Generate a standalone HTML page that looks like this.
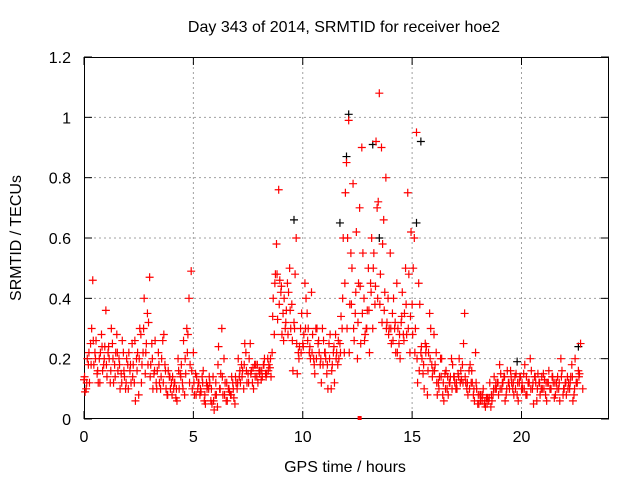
<!DOCTYPE html>
<html><head><meta charset="utf-8"><style>
body{margin:0;background:#fff}
svg{display:block;font-family:"Liberation Sans",sans-serif;font-size:16px}
</style></head><body>
<svg id="chart" width="640" height="480" viewBox="0 0 640 480">
<text x="344" y="32" text-anchor="middle">Day 343 of 2014, SRMTID for receiver hoe2</text>
<text transform="translate(21,238) rotate(-90)" text-anchor="middle">SRMTID / TECUs</text>
<text x="345" y="472" text-anchor="middle">GPS time / hours</text>
<g id="grid"></g>
<g id="axes"></g>
<g id="marks"></g>
</svg>
<script>
const xTicks=[0,5,10,15,20];
const yTicks=[0,0.2,0.4,0.6,0.8,1,1.2];
const yTickLabels=["0","0.2","0.4","0.6","0.8","1","1.2"];
const seriesA=[0.13,0.10,0.18,0.25,0.46,0.22,0.15,0.20,0.28,0.18,0.36,
0.22,0.12,0.25,0.18,0.28,0.20,0.15,0.22,0.10,0.18,
0.16,0.25,0.12,0.20,0.08,0.28,0.22,0.15,0.35,0.47,
0.25,0.15,0.12,0.22,0.10,0.26,0.18,0.08,0.14,0.12,
0.10,0.07,0.20,0.15,0.12,0.08,0.30,0.40,0.49,0.22,
0.15,0.10,0.08,0.14,0.06,0.12,0.10,0.06,0.14,0.08,
0.04,0.10,0.30,0.20,0.06,0.10,0.08,0.12,0.05,0.10,
0.14,0.18,0.10,0.22,0.15,0.25,0.12,0.18,0.14,0.16,
0.13,0.18,0.15,0.20,0.17,0.22,0.28,0.58,0.76,0.42,
0.35,0.30,0.45,0.50,0.38,0.32,0.60,0.22,0.30,0.25,
0.45,0.35,0.22,0.42,0.20,0.30,0.25,0.18,0.30,0.22,
0.15,0.25,0.10,0.22,0.28,0.18,0.25,0.30,0.22,0.85,
0.99,0.55,0.78,0.35,0.20,0.70,0.90,0.40,0.30,0.50,
0.45,0.30,0.38,0.70,1.08,0.90,0.66,0.80,0.40,0.55,
0.35,0.30,0.45,0.25,0.32,0.28,0.50,0.75,0.22,0.38,
0.60,0.95,0.45,0.22,0.15,0.25,0.08,0.35,0.18,0.28,
0.22,0.12,0.20,0.08,0.15,0.10,0.12,0.20,0.14,0.10,
0.15,0.12,0.18,0.35,0.10,0.16,0.12,0.08,0.22,0.05,
0.08,0.06,0.05,0.07,0.06,0.04,0.08,0.10,0.12,0.18,
0.10,0.14,0.08,0.12,0.16,0.10,0.14,0.08,0.12,0.10,
0.15,0.08,0.12,0.20,0.10,0.14,0.06,0.12,0.10,0.15,
0.08,0.12,0.10,0.14,0.07,0.12,0.10,0.20,0.08,0.12,
0.14,0.10,0.18,0.08,0.12,0.16,0.25,0.10];
const seriesB=[0.09,0.20,0.12,0.30,0.18,0.26,0.12,0.22,0.16,0.24,
0.14,0.20,0.30,0.12,0.22,0.16,0.10,0.26,0.14,0.20,
0.22,0.12,0.18,0.06,0.22,0.30,0.18,0.40,0.25,0.32,
0.18,0.10,0.26,0.16,0.12,0.20,0.28,0.10,0.16,0.10,
0.14,0.12,0.06,0.10,0.18,0.26,0.15,0.28,0.18,0.10,
0.08,0.14,0.12,0.09,0.16,0.05,0.11,0.12,0.05,0.03,
0.08,0.24,0.15,0.08,0.12,0.06,0.09,0.14,0.07,0.12,
0.20,0.12,0.16,0.25,0.12,0.20,0.16,0.10,0.18,0.12,
0.16,0.14,0.20,0.15,0.18,0.14,0.40,0.48,0.33,0.46,
0.28,0.40,0.36,0.42,0.30,0.16,0.48,0.15,0.24,0.35,
0.28,0.40,0.30,0.20,0.28,0.15,0.30,0.22,0.12,0.26,
0.20,0.10,0.28,0.18,0.12,0.22,0.20,0.34,0.60,0.75,
0.60,0.38,0.50,0.26,0.62,0.45,0.25,0.55,0.28,0.36,
0.22,0.60,0.55,0.92,0.72,0.48,0.58,0.42,0.32,0.30,
0.25,0.40,0.22,0.30,0.20,0.42,0.35,0.28,0.48,0.62,
0.50,0.30,0.12,0.38,0.20,0.10,0.24,0.22,0.30,0.16,
0.18,0.08,0.14,0.20,0.06,0.16,0.08,0.14,0.18,0.12,
0.10,0.20,0.13,0.25,0.12,0.08,0.18,0.12,0.06,0.10,
0.05,0.08,0.10,0.04,0.07,0.12,0.06,0.14,0.10,0.08,
0.15,0.12,0.06,0.16,0.10,0.12,0.08,0.15,0.06,0.14,
0.10,0.18,0.08,0.12,0.16,0.05,0.12,0.15,0.08,0.10,
0.13,0.06,0.16,0.10,0.12,0.08,0.14,0.06,0.16,0.10,
0.08,0.12,0.14,0.06,0.20,0.12,0.15];
const seriesC=[0.14,0.12,0.22,0.18,0.26,0.20,0.16,0.12,0.24,0.20,
0.18,0.24,0.16,0.20,0.14,0.22,0.18,0.12,0.16,0.12,
0.10,0.18,0.14,0.26,0.16,0.20,0.12,0.30,0.22,0.18,
0.14,0.20,0.16,0.10,0.18,0.14,0.12,0.16,0.08,0.14,
0.08,0.12,0.10,0.16,0.14,0.10,0.20,0.22,0.12,0.16,
0.12,0.08,0.12,0.10,0.12,0.08,0.10,0.14,0.10,0.06,
0.12,0.18,0.10,0.14,0.08,0.12,0.10,0.08,0.10,0.14,
0.12,0.16,0.14,0.18,0.16,0.12,0.15,0.17,0.14,0.18,
0.15,0.16,0.18,0.14,0.16,0.20,0.34,0.45,0.48,0.38,
0.44,0.26,0.32,0.28,0.36,0.26,0.30,0.25,0.20,0.22,
0.24,0.30,0.26,0.24,0.22,0.18,0.20,0.26,0.20,0.18,
0.22,0.18,0.20,0.16,0.24,0.20,0.26,0.22,0.40,0.45,
0.30,0.22,0.38,0.30,0.42,0.32,0.44,0.35,0.26,0.30,
0.36,0.42,0.50,0.44,0.40,0.38,0.32,0.36,0.30,0.28,
0.30,0.26,0.32,0.22,0.28,0.34,0.26,0.38,0.30,0.34,
0.28,0.22,0.20,0.16,0.24,0.18,0.22,0.16,0.20,0.14,
0.16,0.12,0.10,0.14,0.12,0.10,0.14,0.12,0.10,0.14,
0.12,0.14,0.16,0.12,0.14,0.12,0.10,0.16,0.10,0.12,
0.08,0.06,0.08,0.06,0.05,0.07,0.08,0.10,0.12,0.12,
0.10,0.12,0.14,0.10,0.12,0.14,0.12,0.10,0.12,0.14,
0.12,0.10,0.14,0.12,0.10,0.12,0.14,0.10,0.12,0.14,
0.10,0.12,0.12,0.10,0.14,0.12,0.10,0.12,0.14,0.10,
0.12,0.10,0.12,0.14,0.10,0.12,0.14];
const blackTimes=[12.1,12.0,13.2,15.4,9.6,15.2,11.7,19.8,22.6,13.5];
const blackValues=[1.01,0.87,0.91,0.92,0.66,0.65,0.65,0.19,0.24,0.60];
const sampleStep=0.1;
const L=84,R=609,T=57,B=419,XMAX=24,YMAX=1.2;
const xs=v=>L+v/XMAX*(R-L);
const ys=v=>B-v/YMAX*(B-T);
const NS="http://www.w3.org/2000/svg";
function mk(tag,attrs,parent){const e=document.createElementNS(NS,tag);for(const k in attrs)e.setAttribute(k,attrs[k]);parent.appendChild(e);return e;}
const grid=document.getElementById('grid'),axes=document.getElementById('axes'),marks=document.getElementById('marks');
yTicks.forEach((t,i)=>{const y=ys(t);
 if(i>0&&i<yTicks.length-1){const g=mk('line',{x1:L,x2:R,y1:y,y2:y,stroke:'#a0a0a0','stroke-dasharray':'2,3','stroke-width':1},grid);
 
 }
 mk('line',{x1:L,x2:L+8,y1:y,y2:y,stroke:'#000'},axes);mk('line',{x1:R-8,x2:R,y1:y,y2:y,stroke:'#000'},axes);
 const tx=mk('text',{x:L-13,y:y+6,'text-anchor':'end'},axes);tx.textContent=yTickLabels[i];
 
 
});
xTicks.forEach(t=>{const x=xs(t);
 if(t>0){const g=mk('line',{x1:x,x2:x,y1:T,y2:B,stroke:'#a0a0a0','stroke-dasharray':'2,3','stroke-width':1},grid);
 
 }
 mk('line',{x1:x,x2:x,y1:B,y2:B-8,stroke:'#000'},axes);mk('line',{x1:x,x2:x,y1:T,y2:T+8,stroke:'#000'},axes);
 const tx=mk('text',{x:x,y:B+23,'text-anchor':'middle'},axes);tx.textContent=String(t);
 
 
});
const frame=mk('rect',{x:L+0.5,y:T+0.5,width:R-L-1,height:B-T-1,fill:'none',stroke:'#000'},axes);


function plus(t,v,color){const x=xs(t),y=ys(v);
 const p=mk('path',{d:`M${x-4},${y}h8M${x},${y-4}v8`,stroke:color,'stroke-width':1.2,fill:'none'},marks);
 
 }
blackTimes.forEach((t,i)=>plus(t,blackValues[i],'#000'));
seriesA.forEach((v,i)=>plus(i*sampleStep,v,'#f00'));
seriesB.forEach((v,i)=>plus(i*sampleStep+0.05,v,'#f00'));
seriesC.forEach((v,i)=>plus(i*sampleStep+0.025,v,'#f00'));
const sq=mk('rect',{x:xs(12.6)-2,y:B-3,width:4,height:4,fill:'#f00'},marks);


</script>
</body></html>
